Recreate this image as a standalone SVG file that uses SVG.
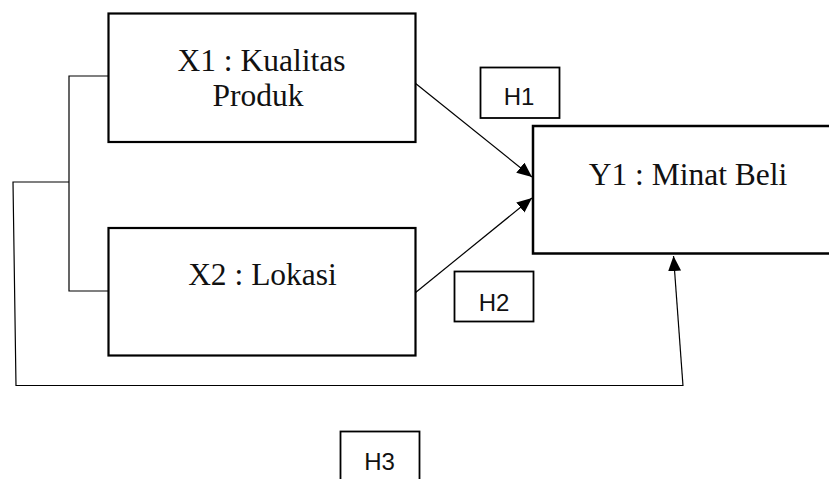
<svg xmlns="http://www.w3.org/2000/svg" width="829" height="479" viewBox="0 0 829 479">
<style>
.box{fill:#fff;stroke:#000;stroke-width:2.2}
.hbox{fill:#fff;stroke:#000;stroke-width:1.8}
.t{font-family:"Liberation Serif","Times New Roman",serif;font-size:31.5px;fill:#111;text-anchor:middle}
.h{font-family:"Liberation Sans",Arial,sans-serif;font-size:24px;fill:#111;text-anchor:middle}
.c{fill:none;stroke:#000;stroke-width:1.2}
</style>
<defs>
<marker id="ah" markerWidth="16" markerHeight="14" refX="15" refY="6.5" orient="auto" markerUnits="userSpaceOnUse">
<path d="M0,0 L15,6.5 L0,13 Z" fill="#000"/>
</marker>
</defs>
<g id="connectors">
<polyline class="c" points="108,76 69,76 69,291 108,291"/>
<polyline class="c" points="69,182 13,182 16,386"/>
<line class="c" x1="16" y1="385.5" x2="683" y2="385.5"/>
<line class="c" x1="683" y1="386" x2="673.5" y2="256" marker-end="url(#ah)"/>
<line class="c" x1="415" y1="83" x2="532" y2="177" marker-end="url(#ah)"/>
<line class="c" x1="415" y1="293" x2="532" y2="198" marker-end="url(#ah)"/>
</g>
<g id="x1">
<rect class="box" x="108.5" y="13.5" width="307" height="128.5"/>
<text class="t" x="261.5" y="70.5">X1 : Kualitas</text>
<text class="t" x="258" y="105.5">Produk</text>
</g>
<g id="x2">
<rect class="box" x="108.5" y="228" width="307" height="127.5"/>
<text class="t" x="262.5" y="285">X2 : Lokasi</text>
</g>
<g id="y1">
<rect class="box" x="533" y="126" width="300" height="127.5" style="stroke-width:2.5"/>
<text class="t" x="688" y="185">Y1 : Minat Beli</text>
</g>
<g id="h1">
<rect class="hbox" x="480.5" y="67.5" width="79" height="50.5"/>
<text class="h" x="519" y="105">H1</text>
</g>
<g id="h2">
<rect class="hbox" x="454.5" y="271.5" width="79" height="50"/>
<text class="h" x="494" y="310.5">H2</text>
</g>
<g id="h3">
<rect class="hbox" x="340.5" y="431.5" width="79" height="60"/>
<text class="h" x="379.5" y="470">H3</text>
</g>
</svg>
